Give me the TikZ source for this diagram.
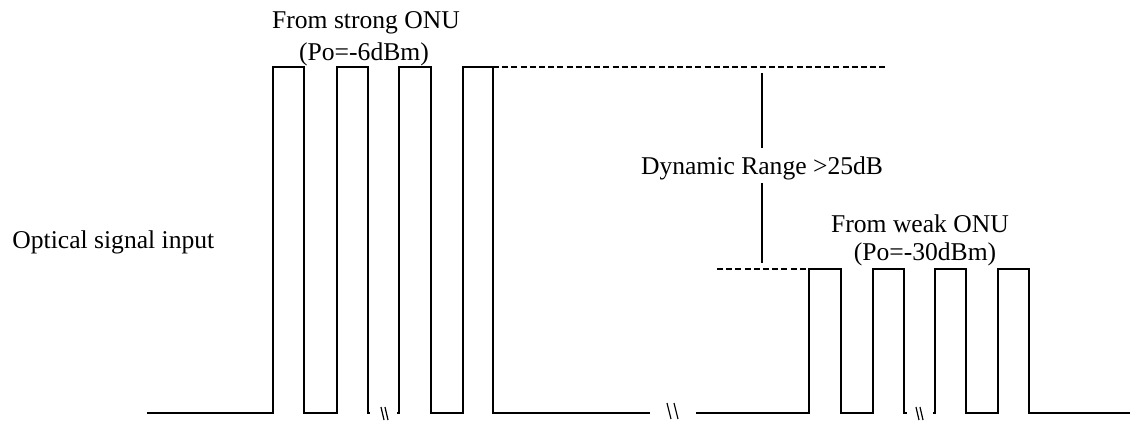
\documentclass[tikz,border=0pt]{standalone}
\usepackage{fontspec}
\setmainfont{Liberation Serif}
\begin{document}
\begin{tikzpicture}[x=0.5pt,y=-0.5pt,
  signal/.style={line width=1pt,line join=miter},
  level/.style={line width=1pt,dash pattern=on 3pt off 1.6pt},
  rangebar/.style={line width=1pt},
  gapmark/.style={line width=0.6pt},
  lbl/.style={font=\fontsize{12.8}{15}\selectfont,inner sep=0pt,anchor=base}]
\useasboundingbox (0,0) rectangle (1131,420);

% strong ONU burst
\draw[signal] (147,413) -- (273,413) -- (273,67) -- (304,67) -- (304,413)
  -- (337,413) -- (337,67) -- (368,67) -- (368,413) -- (370,413);
\draw[signal] (397,413) -- (399,413) -- (399,67) -- (431,67) -- (431,413)
  -- (463,413) -- (463,67) -- (493,67) -- (493,413) -- (650,413);

% weak ONU burst
\draw[signal] (696,413) -- (809,413) -- (809,269) -- (841,269) -- (841,413)
  -- (873,413) -- (873,269) -- (904,269) -- (904,413) -- (907,413);
\draw[signal] (933,413) -- (935,413) -- (935,269) -- (966,269) -- (966,413)
  -- (998,413) -- (998,269) -- (1029,269) -- (1029,413) -- (1130,413);

% break marks on the time axis
\draw[gapmark] (381,407) -- (384,420) (385,407) -- (388,420);
\draw[gapmark] (667,403) -- (671,419) (674,403) -- (678,419);
\draw[gapmark] (916,407) -- (919,420) (920,407) -- (923,420);

% power levels
\coordinate (hiL) at (493,67);
\coordinate (hiR) at (888,67);
\coordinate (loL) at (717,269);
\coordinate (loR) at (809,269);
\draw[level] (hiL) -- (hiR);
\draw[level] (loL) -- (loR);

% dynamic range marker
\node[lbl] (dr) at (762,174) {Dynamic Range >25dB};
\coordinate (drT) at (762,73);
\coordinate (drB) at (762,263);
\draw[rangebar] (drT) -- (762,148);
\draw[rangebar] (762,183) -- (drB);

% labels
\node[lbl] (strong) at (366,28) {From strong ONU};
\node[lbl] (strongP) at (364,60) {(Po=-6dBm)};
\node[lbl] (weak) at (920,232) {From weak ONU};
\node[lbl] (weakP) at (925,260) {(Po=-30dBm)};
\node[lbl,anchor=base west] (input) at (12,248) {Optical signal input};
\end{tikzpicture}
\end{document}
